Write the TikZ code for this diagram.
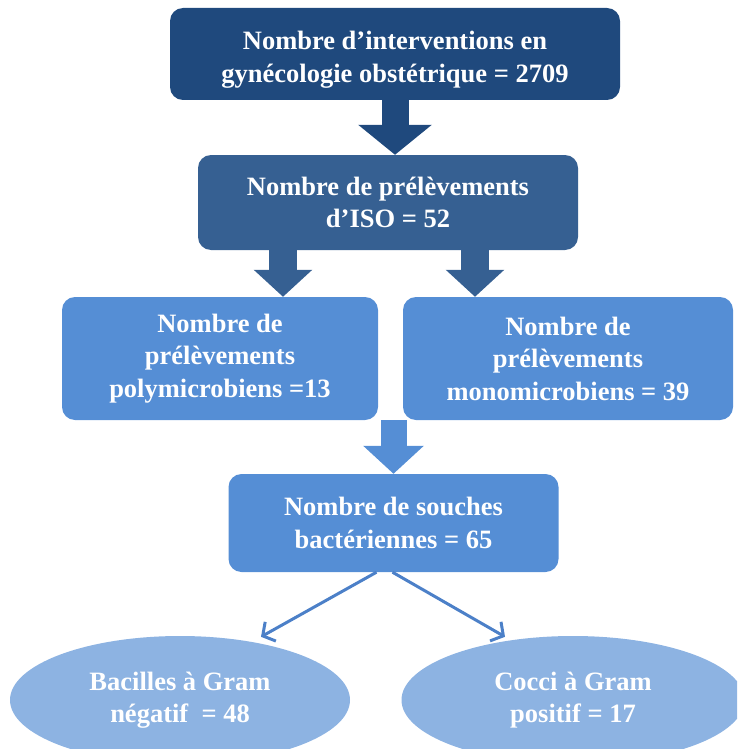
\documentclass[tikz,border=0pt]{standalone}
\usepackage{fontspec}
\setmainfont{Liberation Serif}
\usetikzlibrary{arrows.meta,shapes.geometric}

\definecolor{bleuA}{RGB}{31,73,125}
\definecolor{bleuB}{RGB}{54,96,146}
\definecolor{bleuC}{RGB}{85,142,213}
\definecolor{bleuD}{RGB}{141,179,226}
\definecolor{bleuF}{RGB}{76,128,200}

\begin{document}
\begin{tikzpicture}[x=1pt,y=-1pt,
	boite/.style={rectangle,rounded corners=13pt,inner sep=0pt,align=center,
		text=white,font=\bfseries\fontsize{26.5}{32.5}\selectfont},
	bulle/.style={ellipse,inner sep=0pt,align=center,fill=bleuD,
		text=white,font=\bfseries\fontsize{26.5}{32.5}\selectfont},
	grosse/.style={line width=#1,line cap=butt}]
	\clip (0,0) rectangle (737,749);
	\node[boite,fill=bleuA,minimum width=450pt,minimum height=92pt] (interv) at (395,54)
		{\rule{0pt}{30pt}Nombre d'interventions en\\gynécologie obstétrique = 2709};
	\node[boite,fill=bleuB,minimum width=380pt,minimum height=95pt] (iso) at (388,202.5)
		{Nombre de prélèvements\\d'ISO = 52};
	\node[boite,fill=bleuC,minimum width=316pt,minimum height=123pt] (poly) at (220,358.5)
		{Nombre de\\prélèvements\\polymicrobiens =13};
	\node[boite,fill=bleuC,minimum width=330pt,minimum height=123pt] (mono) at (568,358.5)
		{Nombre de\\prélèvements\\monomicrobiens = 39};
	\node[boite,fill=bleuC,minimum width=330pt,minimum height=98pt] (souches) at (393.5,523)
		{Nombre de souches\\bactériennes = 65};
	\node[bulle,minimum width=340pt,minimum height=128pt] (negatif) at (180,700)
		{Bacilles à Gram\\négatif \ = 48};
	\node[bulle,minimum width=343pt,minimum height=128pt] (positif) at (573,700)
		{Cocci à Gram\\positif = 17};
	
	\draw[grosse=27pt,bleuA,-{Triangle[width=72pt,length=30pt]}]
		(interv.south) -- (interv.south |- iso.north);
	\draw[grosse=28pt,bleuB,-{Triangle[width=57pt,length=27pt]}]
		([xshift=-105pt]iso.south) -- ([xshift=-105pt]iso.south |- poly.north);
	\draw[grosse=28pt,bleuB,-{Triangle[width=57pt,length=27pt]}]
		([xshift=87pt]iso.south) -- ([xshift=87pt]iso.south |- mono.north);
	\draw[grosse=26pt,bleuC,-{Triangle[width=59pt,length=28pt]}]
		(souches.north |- mono.south) -- (souches.north);
	
	\path [line width=3pt,bleuF,-{Straight Barb[length=9pt,width=22pt]}]
	([xshift=-17pt]souches.south) edge ([xshift=81pt,yshift=-1pt]negatif.north)
	([xshift=-1pt]souches.south) edge ([xshift=-68pt,yshift=-1pt]positif.north);
\end{tikzpicture}
\end{document}
